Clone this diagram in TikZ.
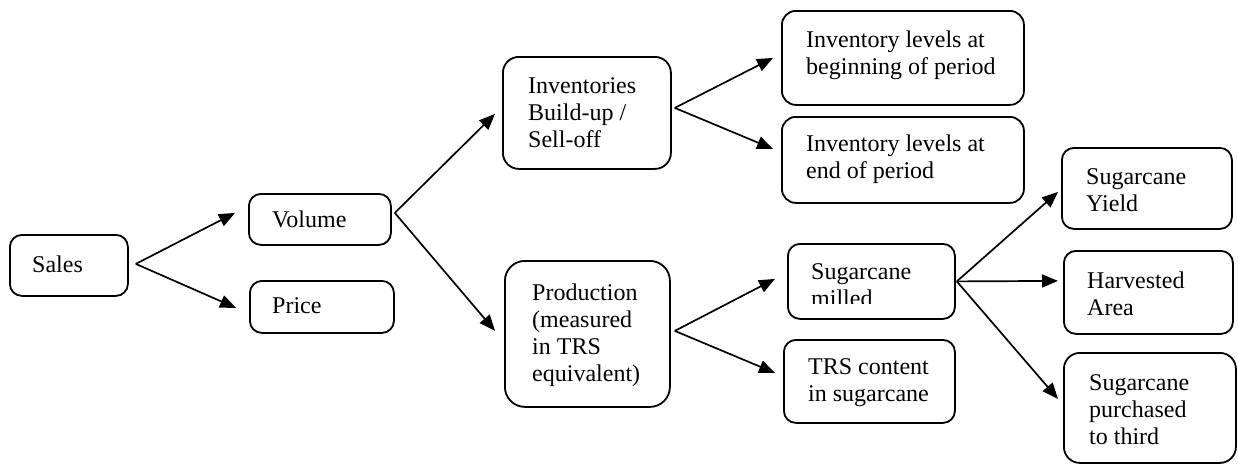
\documentclass[tikz,border=0pt]{standalone}
\usepackage{fontspec}
\setmainfont{Liberation Serif}
\usetikzlibrary{arrows.meta,calc}

\tikzset{
  box/.style={draw=black, line width=1.8pt, rounded corners=12pt, inner sep=0pt},
  lbl/.style={inner sep=0pt, align=left, anchor=west,
    font=\fontsize{24pt}{27pt}\selectfont},
  conn/.style={line width=1.7pt, -{Triangle[length=16pt,width=13pt]}},
}

% place a box by its pixel corners (x1,y1) and (x2,y2)
\newcommand{\mkbox}[6][]{%
  \node[box,#1, minimum width=#4pt-#2pt, minimum height=#5pt-#3pt, anchor=north west]
    (#6) at (#2,#3) {};}

\begin{document}
\begin{tikzpicture}[x=1pt, y=-1pt]
\useasboundingbox (0,0) rectangle (1238,463);

% boxes
\mkbox{9}{234}{127}{295}{sales}
\mkbox{248}{193}{390}{244}{vol}
\mkbox{249}{280}{393}{332}{price}
\mkbox[rounded corners=16pt]{502}{56}{670}{168}{inv}
\mkbox[rounded corners=14pt]{781}{10}{1023}{104}{invb}
\mkbox[rounded corners=14pt]{781}{116}{1023}{202}{inve}
\mkbox[rounded corners=20pt]{504}{260}{669}{406}{prod}
\mkbox{787}{243}{954}{318}{mill}
\mkbox{783}{339}{954}{422}{trs}
\mkbox{1061}{147}{1231}{228}{yield}
\mkbox{1063}{250}{1232}{333}{harv}
\mkbox[rounded corners=16pt]{1063}{352}{1235}{462}{purch}

% labels
\node[lbl] (sales-t) at (32,264) {Sales};
\node[lbl] (vol-t)   at (272,219) {Volume};
\node[lbl] (price-t) at (272,306) {Price};
\node[lbl] (inv-t)   at (528,113) {Inventories\\Build-up /\\Sell-off};
\node[lbl] (invb-t)  at (806,55) {Inventory levels at\\beginning of period};
\node[lbl] (inve-t)  at (806,159) {Inventory levels at\\end of period};
\node[lbl] (prod-t)  at (532,335) {Production\\(measured\\in TRS\\equivalent)};
\node[lbl] (trs-t)   at (808,383) {TRS content\\in sugarcane};
\node[lbl] (yield-t) at (1086,190) {Sugarcane\\Yield};
\node[lbl] (harv-t)  at (1087,294) {Harvested\\Area};
\node[lbl] (purch-t) at (1089,410) {Sugarcane\\purchased\\to third};
\begin{scope}
  \clip (790,248) rectangle (950,303);
  \node[lbl, anchor=north west] (mill-t) at (811,263) {Sugarcane\\milled};
\end{scope}

% branch points
\coordinate (fs) at ($(sales.east)+(7,-1.5)$);
\coordinate (fv) at ($(vol.east)+(3,-6.5)$);
\coordinate (fi) at ($(inv.east)+(3,-5)$);
\coordinate (fp) at ($(prod.east)+(4,-3)$);
\coordinate (fm) at ($(mill.east)+(1,0)$);

% connectors
\draw[conn] (fs) -- ($(vol.west)+(-13,-6.5)$);
\draw[conn] (fs) -- ($(price.west)+(-13,1)$);
\draw[conn] (fv) -- ($(inv.west)+(-7,1)$);
\draw[conn] (fv) -- ($(prod.west)+(-9,-3)$);
\draw[conn] (fi) -- ($(invb.west)+(-8,0)$);
\draw[conn] (fi) -- ($(inve.west)+(-8,-11)$);
\draw[conn] (fp) -- ($(mill.west)+(-12,-2.5)$);
\draw[conn] (fp) -- ($(trs.west)+(-8,-8.5)$);
\draw[conn] (fm) -- ($(yield.west)+(-3,3.5)$);
\draw[conn] (fm) -- ($(harv.west)+(-5,-11.5)$);
\draw[conn] (fm) -- ($(purch.west)+(-5,-9)$);
\end{tikzpicture}
\end{document}
